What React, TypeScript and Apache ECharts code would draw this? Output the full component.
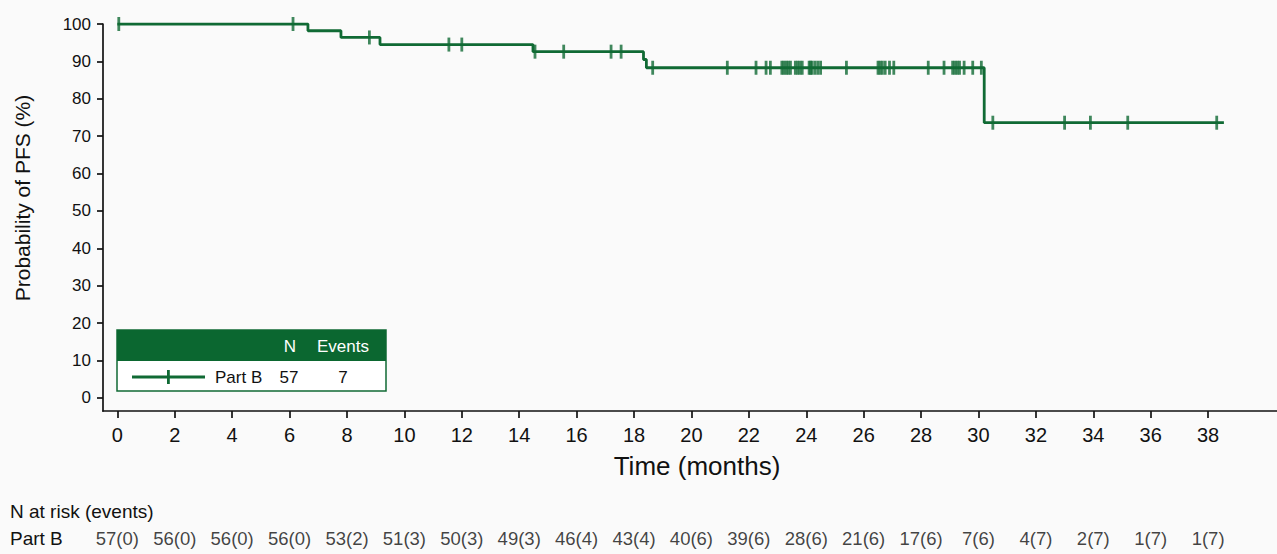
import React, { useEffect, useRef } from "react";
import * as echarts from "echarts";

const eventTimes = [0, 6.64, 7.79, 9.15, 14.48, 18.33, 18.43, 30.2];
const survivalPct = [100, 98.2, 96.4, 94.5, 92.6, 90.5, 88.3, 73.6];
const lastFollowUp = 38.55;

const censorTimes = [
  0.05, 6.12, 8.78, 11.55, 12.0, 14.55, 15.55, 17.2, 17.55, 18.65, 21.25, 22.25, 22.6, 22.75,
  23.15, 23.22, 23.3, 23.37, 23.45, 23.62, 23.7, 23.78, 23.86, 24.1, 24.15, 24.2, 24.3, 24.4, 24.5,
  25.4, 26.5, 26.57, 26.65, 26.75, 26.9, 27.05, 28.25, 28.8, 29.1, 29.18, 29.26, 29.34, 29.5, 29.8,
  30.1, 30.5, 33.0, 33.9, 35.2, 38.3,
];

const xTicks = [0, 2, 4, 6, 8, 10, 12, 14, 16, 18, 20, 22, 24, 26, 28, 30, 32, 34, 36, 38];
const yTicks = [0, 10, 20, 30, 40, 50, 60, 70, 80, 90, 100];
const atRisk = [
  "57(0)", "56(0)", "56(0)", "56(0)", "53(2)", "51(3)", "50(3)", "49(3)", "46(4)", "43(4)",
  "40(6)", "39(6)", "28(6)", "21(6)", "17(6)", "7(6)", "4(7)", "2(7)", "1(7)", "1(7)",
];
const groupName = "Part B";
const groupN = 57;
const groupEvents = 7;

const GREEN = "#106a34";
const HEADER = "#0b6730";
const FONT = "'Liberation Sans', Arial, Helvetica, sans-serif";
const TXT = "#111111";

function survAt(t: number): number {
  let s = survivalPct[0];
  for (let i = 0; i < eventTimes.length; i++) {
    if (eventTimes[i] <= t) s = survivalPct[i];
  }
  return s;
}

export default function App() {
  const ref = useRef<HTMLDivElement>(null);
  useEffect(() => {
    if (!ref.current) return;
    const chart = echarts.init(ref.current, undefined, { renderer: "svg" });
    const stepData: number[][] = eventTimes.map((t, i) => [t, survivalPct[i]]);
    stepData.push([lastFollowUp, survivalPct[survivalPct.length - 1]]);
    const censorData = censorTimes.map((t) => [t, survAt(t)]);
    const riskData = xTicks.map((t, i) => ({ value: [t, 0], label: atRisk[i] }));

    const option: any = {
      animation: false,
      backgroundColor: "#fafafa",
      textStyle: { fontFamily: FONT },
      grid: [
        { left: 103, right: 0, top: 24, bottom: 143, containLabel: false },
        { left: 103, right: 0, top: 526, height: 24, containLabel: false },
      ],
      xAxis: [
        {
          type: "value",
          gridIndex: 0,
          min: -0.5,
          max: 40.4,
          splitLine: { show: false },
          axisLine: { show: true, onZero: false, lineStyle: { color: "#111", width: 1.7 } },
          axisTick: { show: true, length: 7, customValues: xTicks, lineStyle: { color: "#111", width: 1.7 } },
          axisLabel: { customValues: xTicks, color: TXT, fontSize: 20, margin: 14, fontFamily: FONT },
        },
        {
          type: "value",
          gridIndex: 1,
          min: -0.5,
          max: 40.4,
          show: false,
        },
      ],
      yAxis: [
        {
          type: "value",
          gridIndex: 0,
          min: -3.5,
          max: 100,
          splitLine: { show: false },
          axisLine: { show: true, onZero: false, lineStyle: { color: "#111", width: 1.7 } },
          axisTick: { show: true, length: 6, customValues: yTicks, lineStyle: { color: "#111", width: 1.7 } },
          axisLabel: { customValues: yTicks, color: TXT, fontSize: 17, margin: 12, fontFamily: FONT },
        },
        { type: "value", gridIndex: 1, min: -1, max: 1, show: false },
      ],
      series: [
        {
          type: "line",
          xAxisIndex: 0,
          yAxisIndex: 0,
          step: "end",
          data: stepData,
          showSymbol: false,
          symbol: "none",
          lineStyle: { color: GREEN, width: 2.8 },
          z: 3,
        },
        {
          type: "scatter",
          xAxisIndex: 0,
          yAxisIndex: 0,
          data: censorData,
          symbol: "rect",
          symbolSize: [2.8, 14],
          itemStyle: { color: GREEN },
          z: 4,
        },
        {
          type: "scatter",
          xAxisIndex: 1,
          yAxisIndex: 1,
          data: riskData,
          symbolSize: 0,
          label: {
            show: true,
            position: "inside",
            formatter: (p: any) => p.data.label,
            color: TXT,
            fontSize: 18.5,
            fontFamily: FONT,
          },
        },
      ],
      graphic: [
        {
          type: "text",
          x: 22,
          y: 198,
          rotation: Math.PI / 2,
          style: {
            text: "Probability of PFS (%)",
            fill: TXT,
            font: `21px ${FONT}`,
            align: "center",
            verticalAlign: "middle",
          },
        },
        {
          type: "text",
          x: 697,
          y: 466,
          style: {
            text: "Time (months)",
            fill: TXT,
            font: `26px ${FONT}`,
            align: "center",
            verticalAlign: "middle",
          },
        },
        {
          type: "text",
          x: 10,
          y: 511,
          style: { text: "N at risk (events)", fill: TXT, font: `19px ${FONT}`, align: "left", verticalAlign: "middle" },
        },
        {
          type: "text",
          x: 10,
          y: 538,
          style: { text: groupName, fill: TXT, font: `19px ${FONT}`, align: "left", verticalAlign: "middle" },
        },
        {
          type: "rect",
          shape: { x: 117, y: 330, width: 269, height: 61 },
          style: { fill: "#ffffff", stroke: GREEN, lineWidth: 1.5 },
          z: 10,
        },
        {
          type: "rect",
          shape: { x: 117, y: 330, width: 269, height: 31 },
          style: { fill: HEADER },
          z: 11,
        },
        {
          type: "text",
          x: 290,
          y: 346,
          z: 12,
          style: { text: "N", fill: "#ffffff", font: `17px ${FONT}`, align: "center", verticalAlign: "middle" },
        },
        {
          type: "text",
          x: 343,
          y: 346,
          z: 12,
          style: { text: "Events", fill: "#ffffff", font: `17px ${FONT}`, align: "center", verticalAlign: "middle" },
        },
        {
          type: "line",
          shape: { x1: 132, y1: 377, x2: 205, y2: 377 },
          style: { stroke: GREEN, lineWidth: 2.8 },
          z: 12,
        },
        {
          type: "rect",
          shape: { x: 167, y: 370, width: 2.8, height: 14 },
          style: { fill: GREEN },
          z: 12,
        },
        {
          type: "text",
          x: 215,
          y: 377,
          z: 12,
          style: { text: groupName, fill: TXT, font: `17px ${FONT}`, align: "left", verticalAlign: "middle" },
        },
        {
          type: "text",
          x: 289,
          y: 377,
          z: 12,
          style: { text: String(groupN), fill: TXT, font: `17px ${FONT}`, align: "center", verticalAlign: "middle" },
        },
        {
          type: "text",
          x: 343,
          y: 377,
          z: 12,
          style: { text: String(groupEvents), fill: TXT, font: `17px ${FONT}`, align: "center", verticalAlign: "middle" },
        },
      ],
    };
    chart.setOption(option);
    return () => chart.dispose();
  }, []);
  return (
    <div
      ref={ref}
      style={{ position: "fixed", left: 0, top: 0, width: 1277, height: 554, background: "#fafafa" }}
    />
  );
}
